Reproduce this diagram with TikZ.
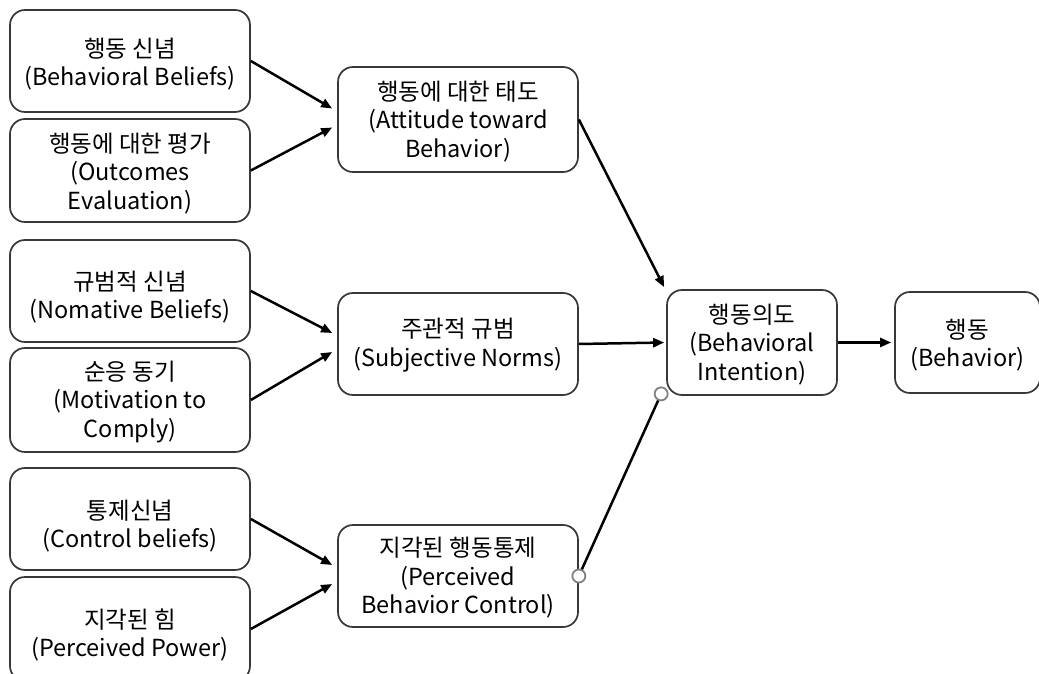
\documentclass[tikz,border=0pt]{standalone}
\usepackage{fontspec}
\setmainfont{Noto Sans CJK KR}
\usetikzlibrary{arrows.meta,calc}
\begin{document}
\begin{tikzpicture}[x=1pt,y=-1pt,
  box/.style={draw=black!78, line width=1.7pt, rounded corners=15pt, fill=white, inner sep=0pt},
  txt/.style={inner sep=0pt, align=center, font=\fontsize{23.5}{28.5}\selectfont},
  link/.style={line width=2.5pt, -{Triangle[length=11pt,width=9pt]}},
  ring/.style={circle, draw=black!50, line width=1.8pt, fill=white, inner sep=0pt, minimum size=13pt}]
\useasboundingbox (0,0) rectangle (1039,674);
\clip (0,0) rectangle (1039,674);
\fill[white] (0,0) rectangle (1039,674);

% belief boxes (left column)
\node[box, minimum width=240pt, minimum height=102pt] (bb) at (130,61) {};
\node[box, minimum width=240pt, minimum height=103pt] (oe) at (130,170.5) {};
\node[box, minimum width=240pt, minimum height=102pt] (nb) at (130,291) {};
\node[box, minimum width=240pt, minimum height=104pt] (mc) at (130,400) {};
\node[box, minimum width=240pt, minimum height=102pt] (cb) at (130,519) {};
\node[box, minimum width=240pt, minimum height=104pt] (pp) at (130,629) {};

% constructs (middle column)
\node[box, minimum width=240pt, minimum height=105pt] (att) at (458,119.5) {};
\node[box, minimum width=240pt, minimum height=102pt] (sn) at (458,344) {};
\node[box, minimum width=240pt, minimum height=102pt] (pbc) at (458,576) {};

% intention and behaviour
\node[box, minimum width=170pt, minimum height=105pt] (bi) at (752,342.5) {};
\node[box, minimum width=145pt, minimum height=101pt] (bh) at (967.5,342.5) {};

% box texts
\node[txt] (bbT)  at ([yshift=-3pt]bb.center) {행동 신념\\(Behavioral Beliefs)};
\node[txt] (oeT)  at ([yshift=-3pt]oe.center) {행동에 대한 평가\\(Outcomes\\Evaluation)};
\node[txt] (nbT)  at ([yshift=-6pt]nb.center) {규범적 신념\\(Nomative Beliefs)};
\node[txt] (mcT)  at ([yshift=-2pt]mc.center) {순응 동기\\(Motivation to\\Comply)};
\node[txt] (cbT)  at ([yshift=-7pt]cb.center) {통제신념\\(Control beliefs)};
\node[txt] (ppT)  at ([yshift=-6pt]pp.center) {지각된 힘\\(Perceived Power)};
\node[txt] (attT) at ([yshift=-2pt]att.center) {행동에 대한 태도\\(Attitude toward\\Behavior)};
\node[txt] (snT)  at ([yshift=-1pt]sn.center) {주관적 규범\\(Subjective Norms)};
\node[txt] (pbcT) at ([yshift=-2pt]pbc.center) {지각된 행동통제\\(Perceived\\Behavior Control)};
\node[txt] (biT)  at ([yshift=-2pt]bi.center) {행동의도\\(Behavioral\\Intention)};
\node[txt] (bhT)  at ([yshift=-2.5pt]bh.center) {행동\\(Behavior)};

% arrow targets
\coordinate (attA) at ($(att.west)+(-5,-11)$);
\coordinate (attB) at ($(att.west)+(-5,8)$);
\coordinate (snA) at ($(sn.west)+(-5,-11)$);
\coordinate (snB) at ($(sn.west)+(-5,8)$);
\coordinate (pbcA) at ($(pbc.west)+(-5,-11)$);
\coordinate (pbcB) at ($(pbc.west)+(-5,8)$);
\coordinate (biTop) at ($(bi.north west)+(-2,-2)$);
\coordinate (biIn) at ($(bi.west)+(-2,0)$);
\coordinate (bhIn) at ($(bh.west)+(-3,0)$);

\draw[link] (bb.east) -- (attA);
\draw[link] (oe.east) -- (attB);
\draw[link] (nb.east) -- (snA);
\draw[link] (mc.east) -- (snB);
\draw[link] (cb.east) -- (pbcA);
\draw[link] (pp.east) -- (pbcB);
\draw[link] (att.east) -- (biTop);
\draw[link] (sn.east) -- (biIn);
\draw[link] (bi.east) -- (bhIn);

% perceived control: line with open circles at both ends
\coordinate (c1) at (pbc.east);
\coordinate (c2) at ($(bi.south west)+(-5,-2)$);
\draw[line width=2.5pt] (c1) -- (c2);
\node[ring] (r1) at (c1) {};
\node[ring] (r2) at (c2) {};
\end{tikzpicture}
\end{document}
